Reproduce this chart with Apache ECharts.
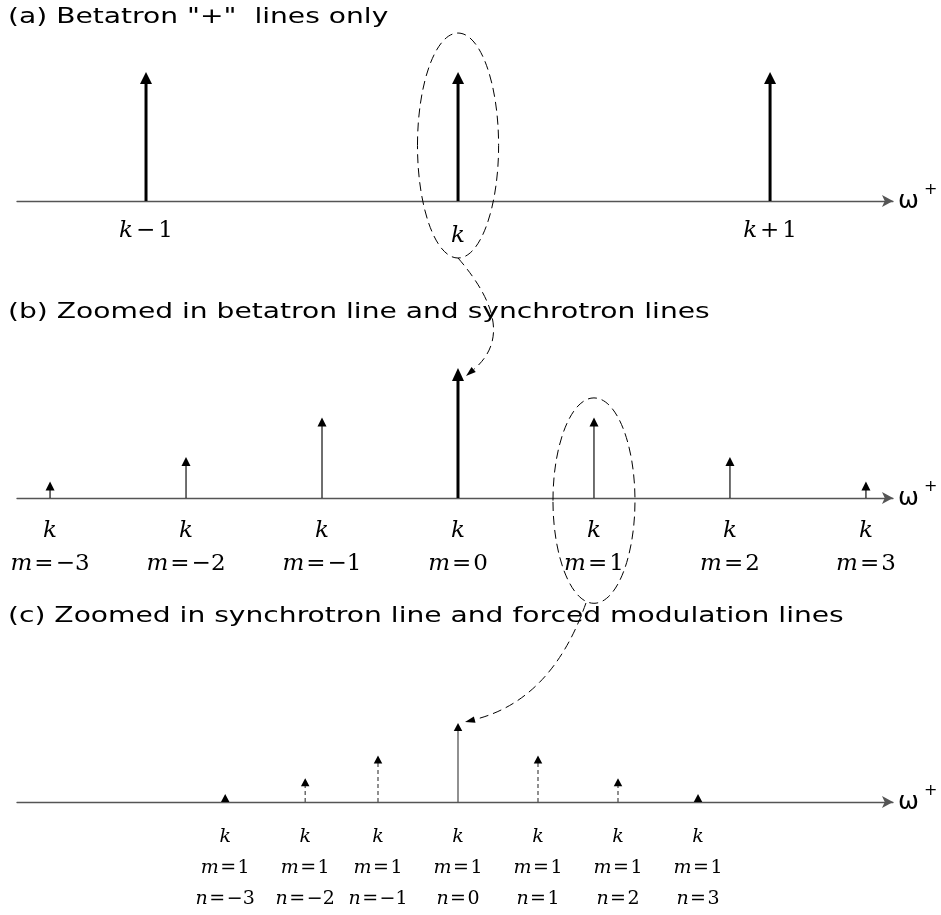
<!DOCTYPE html>
<html><head><meta charset="utf-8">
<script src="https://cdn.jsdelivr.net/npm/echarts@6/dist/echarts.min.js"></script>
<style>html,body{margin:0;padding:0;background:#fff}#c{width:941px;height:915px}</style>
</head><body><div id="c"></div>
<script>
// ---- data ----
const titleTexts = [
  '(a) Betatron "+"  lines only',
  '(b) Zoomed in betatron line and synchrotron lines',
  '(c) Zoomed in synchrotron line and forced modulation lines'
];
// panel (a): betatron "+" lines k-1, k, k+1
const aPos = [-1, 0, 1];
const aAmp = [1, 1, 1];
const aOffset = ['−', '', '+'];
// panel (b): synchrotron lines m = -3..3
const bPos = [-3, -2, -1, 0, 1, 2, 3];
const bAmp = [0.127, 0.315, 0.62, 1, 0.62, 0.315, 0.127];
const bM = [-3, -2, -1, 0, 1, 2, 3];
// panel (c): forced modulation lines n = -3..3 around m = 1
const cPos = [-2.91, -1.91, -1, 0, 1, 2, 3];
const cAmp = [0.10, 0.30, 0.59, 1, 0.59, 0.30, 0.10];
const cN = [-3, -2, -1, 0, 1, 2, 3];
// annotations (in panel data units): ellipse [cx, cy, rx, ry], curve [x0,y0, cpx,cpy, x1,y1]
const aEllipse = [0, 0.43, 0.13, 0.872];
const aCurve = [0, -0.442, 0.199, -1.0, 0.0256, -1.357];
const bEllipse = [1.0, -0.02, 0.3015, 0.79];
const bCurve = [0.941, -0.808, 0.691, -1.554, 0.0515, -1.723];

const sgn = v => v < 0 ? '−' + Math.abs(v) : String(v);
const SERIF = 'DejaVu Serif';
const SANS = 'DejaVu Sans';

function mathRich(size, eqPad) {
  return {
    i: {fontFamily: SERIF, fontStyle: 'italic', fontSize: size, color: '#000'},
    ic: {fontFamily: SERIF, fontStyle: 'italic', fontSize: size, color: '#000', padding: [10, 0, 0, 0]},
    r: {fontFamily: SERIF, fontSize: size, color: '#000'},
    e: {fontFamily: SERIF, fontSize: size, color: '#000', padding: [0, eqPad, 0, eqPad]}
  };
}
const omegaName = {
  name: '{w|ω}{s|+}', nameLocation: 'end', nameGap: 5,
  nameTextStyle: {rich: {
    w: {fontFamily: SANS, fontSize: 25, lineHeight: 38, color: '#000'},
    s: {fontFamily: SANS, fontSize: 16, verticalAlign: 'top', padding: [0, 0, 0, 5], color: '#000'}
  }}
};
function xAx(gi, min, max, vals, fmt, margin, size, lh, eqPad) {
  return Object.assign({
    gridIndex: gi, type: 'value', min: min, max: max,
    axisLine: {onZero: true, symbol: ['none', 'arrow'], symbolSize: [9, 11],
      lineStyle: {color: '#555', width: 1.3}},
    axisTick: {show: false}, splitLine: {show: false},
    axisLabel: {customValues: vals, formatter: fmt, margin: margin,
      lineHeight: lh, rich: mathRich(size, eqPad)}
  }, omegaName);
}
function yAx(gi) { return {gridIndex: gi, type: 'value', min: 0, max: 1, show: false}; }

function stemSeries(gi, pos, amp, styleFn) {
  return {
    type: 'custom', xAxisIndex: gi, yAxisIndex: gi, silent: true, z: 3,
    data: pos.map((p, i) => [p, amp[i], i]),
    renderItem: function (params, api) {
      const st = styleFn(api.value(2));
      const x = api.value(0);
      const base = api.coord([x, 0]);
      const tip = api.coord([x, api.value(1)]);
      const ch = [];
      if (base[1] - tip[1] > st.hh) {
        ch.push({type: 'line', shape: {x1: base[0], y1: base[1], x2: tip[0], y2: tip[1] + st.hh - 1},
          style: {stroke: st.color, lineWidth: st.lw, lineDash: st.dash || null}});
      }
      ch.push({type: 'polygon', shape: {points: [[tip[0], tip[1]], [tip[0] - st.hw / 2, tip[1] + st.hh],
        [tip[0] + st.hw / 2, tip[1] + st.hh]]}, style: {fill: '#000'}});
      return {type: 'group', children: ch};
    }
  };
}
function annoSeries(gi, ell, cur) {
  return {
    type: 'custom', xAxisIndex: gi, yAxisIndex: gi, silent: true, z: 4,
    data: [ell.concat(cur)],
    renderItem: function (params, api) {
      const v = k => api.value(k);
      const c = api.coord([v(0), v(1)]);
      const sz = api.size([v(2), v(3)]);
      const p0 = api.coord([v(4), v(5)]);
      const p1 = api.coord([v(6), v(7)]);
      const p2 = api.coord([v(8), v(9)]);
      let dx = p2[0] - p1[0], dy = p2[1] - p1[1];
      const L = Math.hypot(dx, dy); dx /= L; dy /= L;
      const hl = 10, hw = 6.5;
      const bx = p2[0] - dx * hl, by = p2[1] - dy * hl;
      return {type: 'group', children: [
        {type: 'ellipse', shape: {cx: c[0], cy: c[1], rx: sz[0], ry: sz[1]},
          style: {fill: null, stroke: '#000', lineWidth: 1, lineDash: [9, 5]}},
        {type: 'bezierCurve', shape: {x1: p0[0], y1: p0[1], cpx1: p1[0], cpy1: p1[1], x2: bx, y2: by},
          style: {fill: null, stroke: '#000', lineWidth: 1, lineDash: [9, 5]}},
        {type: 'polygon', shape: {points: [[p2[0], p2[1]], [bx - dy * hw / 2, by + dx * hw / 2], [bx + dy * hw / 2, by - dx * hw / 2]]},
          style: {fill: '#000'}}
      ]};
    }
  };
}

const chart = echarts.init(document.getElementById('c'), null, {renderer: 'canvas'});
const titleY = [18, 313, 617];
chart.setOption({
  animation: false,
  backgroundColor: '#fff',
  graphic: titleTexts.map((t, i) => ({
    type: 'text', x: 8, y: titleY[i], scaleX: 1.34, z: 10, silent: true,
    style: {text: t, fontFamily: SANS, fontSize: 21, fill: '#000', align: 'left', verticalAlign: 'middle'}
  })),
  grid: [
    {left: 17, right: 48, top: 72, height: 129, outerBoundsMode: 'none'},
    {left: 17, right: 48, top: 368, height: 130, outerBoundsMode: 'none'},
    {left: 17, right: 48, top: 723, height: 79, outerBoundsMode: 'none'}
  ],
  xAxis: [
    xAx(0, -1.4135, 1.394, aPos, function (val) {
      const i = aPos.indexOf(val);
      return i === 1 ? '{ic|k}' : '{i|k}{e|' + aOffset[i] + '}{r|1}';
    }, 15, 23, 30, 3),
    xAx(1, -3.243, 3.199, bPos, function (val) {
      const i = bPos.indexOf(val);
      return '{i|k}\n{i|m}{e|=}{r|' + sgn(bM[i]) + '}';
    }, 17, 23, 33, 2),
    xAx(2, -5.5125, 5.4375, cPos, function (val) {
      const i = cPos.indexOf(val);
      return '{i|k}\n{i|m}{e|=}{r|1}\n{i|n}{e|=}{r|' + sgn(cN[i]) + '}';
    }, 20, 19, 31, 1.5)
  ],
  yAxis: [yAx(0), yAx(1), yAx(2)],
  series: [
    stemSeries(0, aPos, aAmp, () => ({lw: 3, hw: 12, hh: 12, color: '#000'})),
    stemSeries(1, bPos, bAmp, i => bM[i] === 0 ? {lw: 3, hw: 12, hh: 13, color: '#000'}
      : {lw: 1.3, hw: 9, hh: 9, color: '#222'}),
    stemSeries(2, cPos, cAmp, i => ({lw: 1.3, hw: 8.5, hh: 8, color: '#555', dash: cN[i] === 0 ? null : [4, 3]})),
    annoSeries(0, aEllipse, aCurve),
    annoSeries(1, bEllipse, bCurve)
  ]
});
</script></body></html>
